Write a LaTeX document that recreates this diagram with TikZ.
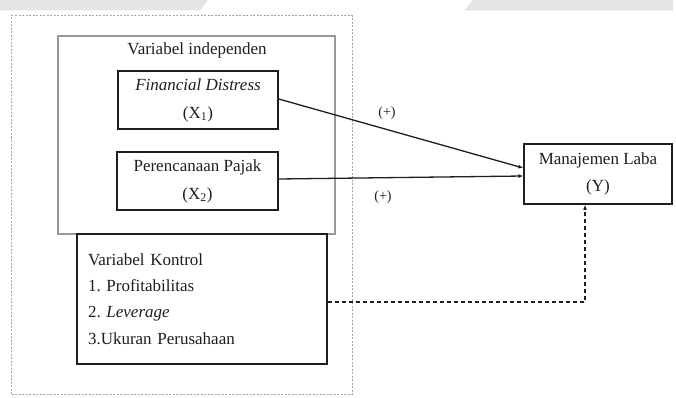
\documentclass[tikz,border=0pt]{standalone}
\usepackage{fontspec}
\setmainfont{Liberation Serif}
\usetikzlibrary{arrows.meta}
\definecolor{ink}{HTML}{1E1E1E}
\definecolor{wm}{HTML}{E4E4E4}
\tikzset{
  box/.style={draw=ink, line width=1.4pt, rectangle, inner sep=0pt, text=ink,
              font=\fontsize{17}{28}\selectfont, align=center},
  container/.style={draw=gray!80, line width=1.2pt, rectangle, inner sep=0pt},
  outerbox/.style={draw=gray!70, line width=1pt, dash pattern=on 2pt off 1.5pt, rectangle, inner sep=0pt},
  lbl/.style={text=ink, inner sep=0pt, font=\fontsize{17}{20}\selectfont},
  plus/.style={text=ink, inner sep=0pt, font=\fontsize{14}{16}\selectfont},
  link/.style={draw=ink, line width=1.3pt, -{Latex[length=5pt,width=4pt]}},
  dlink/.style={draw=ink, line width=1.3pt, dash pattern=on 4pt off 3pt, -{Latex[length=5pt,width=4pt]}}
}
\begin{document}
\frenchspacing
\begin{tikzpicture}[x=1pt,y=-1pt]
\useasboundingbox (0,0) rectangle (676,398);
% watermark shapes
\fill[wm] (0,0) -- (208,0) -- (200,10.5) -- (0,10.5) -- cycle;
\fill[wm] (473,0) -- (673,0) -- (673,10.5) -- (464,10.5) -- cycle;
% outer dotted frame
\node[outerbox, minimum width=340.5pt, minimum height=378pt] (outer) at (181.75,205) {};
% independent variables container
\node[container, minimum width=277pt, minimum height=198pt] (indep) at (196.5,135) {};
\node[lbl] (indeplabel) at (197,50) {Variabel independen};
% boxes
\node[box, minimum width=160pt, minimum height=58pt] (fd) at (198,100) {\textit{Financial Distress}\\(X\textsubscript{1})};
\node[box, minimum width=161pt, minimum height=58pt] (pp) at (197.5,181) {Perencanaan Pajak\\(X\textsubscript{2})};
\node[box, minimum width=250pt, minimum height=130pt, text width=228pt, inner sep=11pt, align=left,
      font=\fontsize{17}{26.3}\selectfont] (kontrol) at (202,299)
  {Variabel Kontrol\\1. Profitabilitas\\2. \textit{Leverage}\\3.Ukuran Perusahaan\\[-4pt]};
\node[box, minimum width=148pt, minimum height=60pt, font=\fontsize{17}{27}\selectfont] (Y) at (598,174) {Manajemen Laba\\(Y)};
% connectors
\draw[link] ([yshift=1pt]fd.east) -- ([yshift=6pt]Y.west);
\draw[link] ([yshift=2pt]pp.east) -- ([yshift=-2pt]Y.west);
\draw[dlink] ([yshift=-3pt]kontrol.east) -| ([xshift=-13pt]Y.south);
% labels
\node[plus] (plus1) at (387,113) {(+)};
\node[plus] (plus2) at (383,197) {(+)};
\end{tikzpicture}
\end{document}
